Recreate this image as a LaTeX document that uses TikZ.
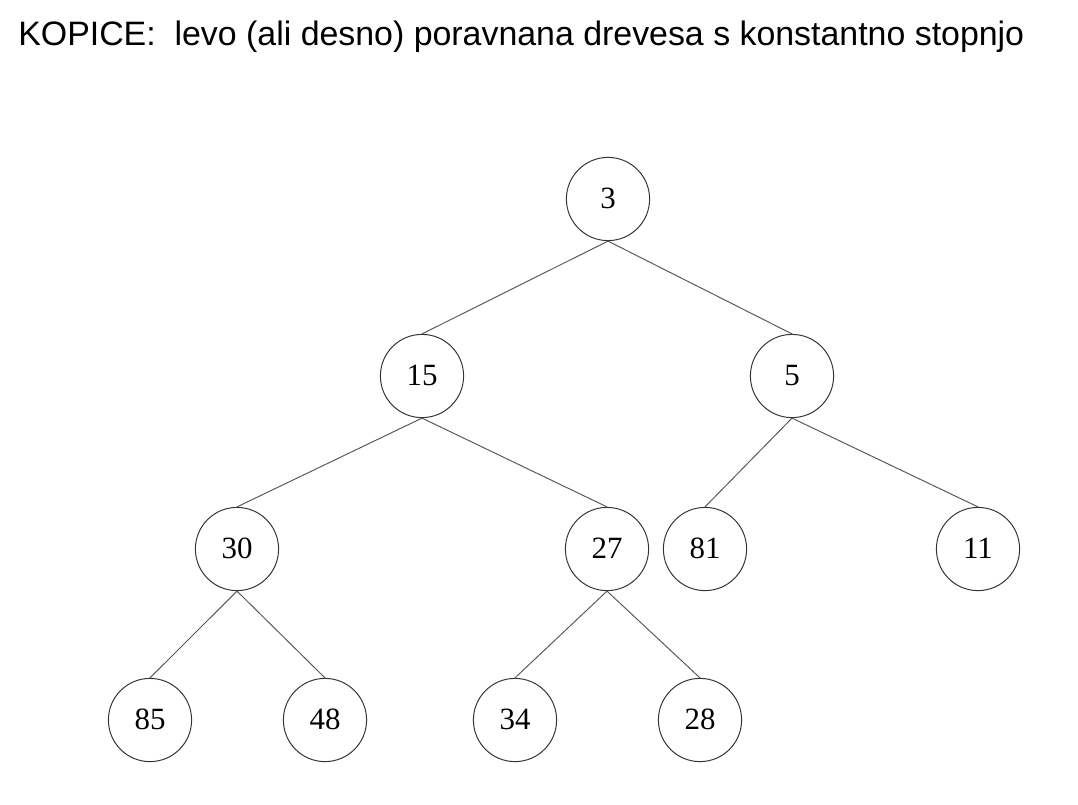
\documentclass[tikz,border=0pt]{standalone}
\usepackage{fontspec}
\setmainfont{Liberation Serif}
\newfontfamily\titlefont{Liberation Sans}
\usepackage{tikz}

\begin{document}
\begin{tikzpicture}[
                x=0.025cm, y=-0.025cm,
                key/.style={draw=black!80, circle, line width=0.7pt, minimum size=2.08cm, inner sep=0pt, text height=14pt, text depth=0pt, font=\fontsize{22}{26}\selectfont},
                edge/.style={draw=black!65, line width=0.7pt}
            ]
                \useasboundingbox (0,0) rectangle (1078,804);
                \node[anchor=base west, inner sep=0pt, font=\titlefont\fontsize{24.1}{28}\selectfont] (title) at (18,45) {KOPICE:\ \ levo (ali desno) poravnana drevesa s konstantno stopnjo};

                \node[key] (n3) at (608,199) {3};
                \node[key] (n15) at (422,376) {15};
                \node[key] (n5) at (792,376) {5};
                \node[key] (n30) at (237,549) {30};
                \node[key] (n27) at (607,549) {27};
                \node[key] (n81) at (705,549) {81};
                \node[key] (n11) at (978,549) {11};
                \node[key] (n85) at (150,720) {85};
                \node[key] (n48) at (325,720) {48};
                \node[key] (n34) at (515,720) {34};
                \node[key] (n28) at (700,720) {28};

                \draw[edge] (n3.south) -- (n15.north);
                \draw[edge] (n3.south) -- (n5.north);
                \draw[edge] (n15.south) -- (n30.north);
                \draw[edge] (n15.south) -- (n27.north);
                \draw[edge] (n5.south) -- (n81.north);
                \draw[edge] (n5.south) -- (n11.north);
                \draw[edge] (n30.south) -- (n85.north);
                \draw[edge] (n30.south) -- (n48.north);
                \draw[edge] (n27.south) -- (n34.north);
                \draw[edge] (n27.south) -- (n28.north);
            \end{tikzpicture}
\end{document}
